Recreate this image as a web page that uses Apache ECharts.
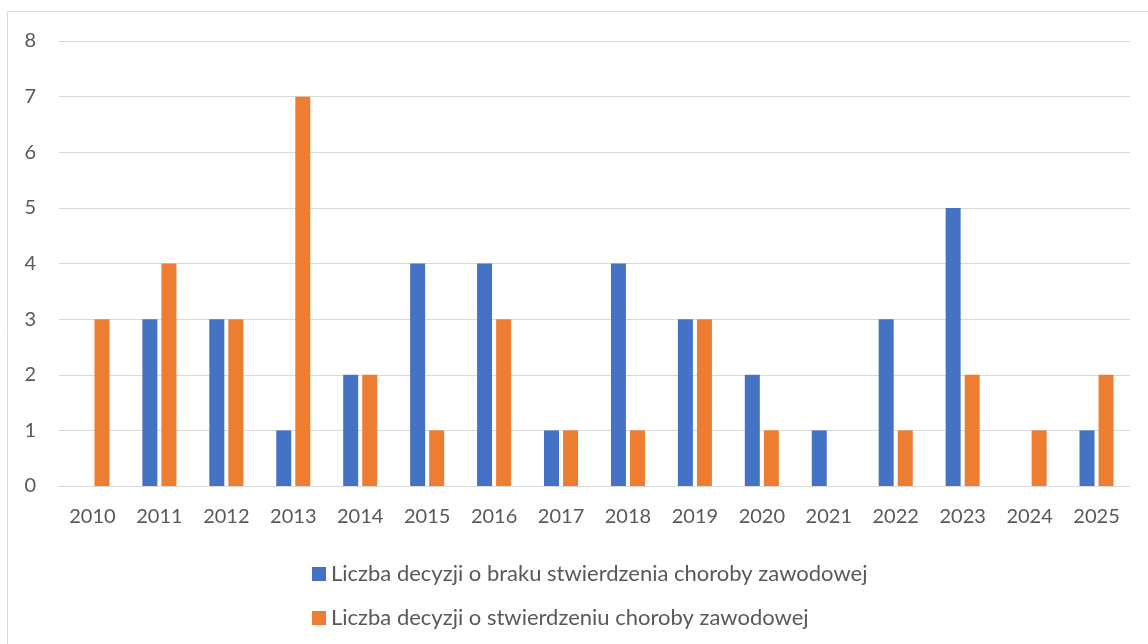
<!DOCTYPE html>
<html>
<head>
<meta charset="utf-8">
<script src="https://cdn.jsdelivr.net/npm/echarts@6/dist/echarts.min.js"></script>
<style>
  html, body { margin: 0; padding: 0; background: #fff; }
  #chart { width: 1148px; height: 644px; }
</style>
</head>
<body>
<div id="chart"></div>
<script>
  // years on the x axis
  const years = ['2010','2011','2012','2013','2014','2015','2016','2017',
                 '2018','2019','2020','2021','2022','2023','2024','2025']
  // decisions: no occupational disease found
  const brakValues = [0,3,3,1,2,4,4,1,4,3,2,1,3,5,0,1]
  // decisions: occupational disease found
  const stwValues = [3,4,3,7,2,1,3,1,1,3,1,0,1,2,1,2]

  const font = 'Lato, "Open Sans", sans-serif'
  const textColor = '#595959'
  const gridColor = '#d9d9d9'

  const chart = echarts.init(document.getElementById('chart'))
  chart.setOption({
    animation: false,
    textStyle: { fontFamily: font },
    graphic: [{
      type: 'rect',
      shape: { x: 7.5, y: 11.5, width: 1160, height: 660 },
      style: { fill: 'none', stroke: gridColor, lineWidth: 1 },
      silent: true
    }],
    grid: { left: 59, right: 18, top: 41, bottom: 158 },
    legend: {
      orient: 'vertical',
      left: 307,
      top: 558,
      icon: 'rect',
      itemWidth: 14,
      itemHeight: 14,
      itemGap: 22,
      textStyle: { fontSize: 22, color: textColor, fontFamily: font }
    },
    xAxis: {
      type: 'category',
      data: years,
      axisLine: { lineStyle: { color: gridColor, width: 1 } },
      axisTick: { show: false },
      axisLabel: { fontSize: 20, color: textColor, margin: 21, interval: 0 }
    },
    yAxis: {
      type: 'value',
      min: 0,
      max: 8,
      interval: 1,
      axisLine: { show: false },
      axisTick: { show: false },
      splitLine: { lineStyle: { color: gridColor, width: 1 } },
      axisLabel: { fontSize: 20, color: textColor, margin: 23 }
    },
    series: [
      {
        name: 'Liczba decyzji o braku stwierdzenia choroby zawodowej',
        type: 'bar',
        data: brakValues,
        itemStyle: { color: '#4472C4' },
        barWidth: 15,
        barGap: '27%',
        barCategoryGap: '49%'
      },
      {
        name: 'Liczba decyzji o stwierdzeniu choroby zawodowej',
        type: 'bar',
        data: stwValues,
        itemStyle: { color: '#ED7D31' },
        barWidth: 15
      }
    ]
  })
</script>
</body>
</html>
